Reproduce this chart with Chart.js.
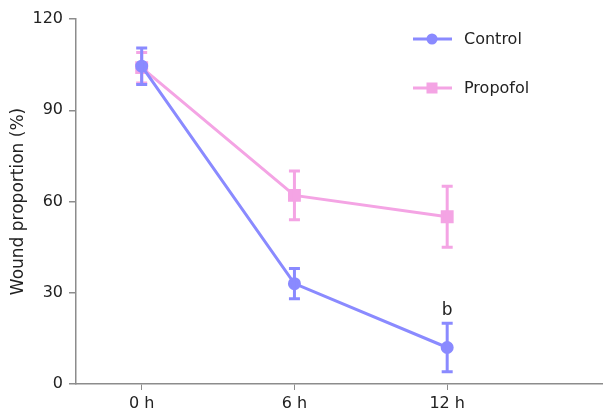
<!DOCTYPE html>
<html>
<head>
<meta charset="utf-8">
<script src="https://cdn.jsdelivr.net/npm/chart.js@4"></script>
<style>
  html, body { margin: 0; padding: 0; background: #fff; overflow: hidden; }
  #wrap { width: 603px; height: 419px; position: relative; overflow: hidden; }
  #c { display: block; }
</style>
</head>
<body>
<div id="wrap"><canvas id="c" width="613" height="419"></canvas></div>
<script>
// Time points and group means / errors (wound proportion, %)
const timeLabels = ['0 h', '6 h', '12 h'];
const controlMean = [104.5, 33, 12];
const controlErr = [6, 5, 8];
const propofolMean = [104, 62, 55];
const propofolErr = [5, 8, 10];
const yTicks = [0, 30, 60, 90, 120];
const controlMarks = ['', '', 'b'];

const BLUE = '#8a8aff';
const PINK = '#f4a4e4';
const AXIS = '#8c8c8c';
const FONT = '"DejaVu Sans", Verdana, sans-serif';

const toPoints = arr => arr.map((v, i) => ({ x: i, y: v }));

// Vertical error bars with caps, plus significance marks above the bars
const errorBars = {
  id: 'errorBars',
  afterDatasetDraw(chart, args) {
    const ds = chart.data.datasets[args.index];
    const xs = chart.scales.x, ys = chart.scales.y;
    const ctx = chart.ctx;
    ctx.save();
    ctx.strokeStyle = ds.borderColor;
    ctx.lineWidth = 3;
    ds.data.forEach((p, i) => {
      const e = ds.errors[i];
      const px = xs.getPixelForValue(p.x);
      const top = ys.getPixelForValue(p.y + e);
      const bot = ys.getPixelForValue(p.y - e);
      ctx.beginPath();
      ctx.moveTo(px, top); ctx.lineTo(px, bot);
      ctx.moveTo(px - 5.5, top); ctx.lineTo(px + 5.5, top);
      ctx.moveTo(px - 5.5, bot); ctx.lineTo(px + 5.5, bot);
      ctx.stroke();
      const mark = ds.marks && ds.marks[i];
      if (mark) {
        ctx.fillStyle = '#222';
        ctx.font = '17px ' + FONT;
        ctx.textAlign = 'center';
        ctx.textBaseline = 'bottom';
        ctx.fillText(mark, px, top - 4);
      }
    });
    ctx.restore();
  }
};

// Legend drawn in the upper right of the plot
const sideLegend = {
  id: 'sideLegend',
  afterDraw(chart) {
    const ctx = chart.ctx;
    const rows = [39, 88];
    ctx.save();
    chart.data.datasets.forEach((ds, i) => {
      const y = rows[i];
      ctx.strokeStyle = ds.borderColor;
      ctx.lineWidth = 3;
      ctx.beginPath();
      ctx.moveTo(413, y); ctx.lineTo(452, y);
      ctx.stroke();
      ctx.fillStyle = ds.borderColor;
      if (ds.pointStyle === 'rect') {
        ctx.fillRect(432 - 5.5, y - 5.5, 11, 11);
      } else {
        ctx.beginPath();
        ctx.arc(432, y, 5.5, 0, Math.PI * 2);
        ctx.fill();
      }
      ctx.fillStyle = '#222';
      ctx.font = '16px ' + FONT;
      ctx.textAlign = 'left';
      ctx.textBaseline = 'middle';
      ctx.fillText(ds.label, 464, y + 1);
    });
    ctx.restore();
  }
};

new Chart(document.getElementById('c'), {
  type: 'line',
  data: {
    datasets: [
      {
        label: 'Control',
        data: toPoints(controlMean),
        errors: controlErr,
        marks: controlMarks,
        borderColor: BLUE,
        backgroundColor: BLUE,
        borderWidth: 3,
        pointStyle: 'circle',
        pointRadius: 5,
        pointHoverRadius: 5
      },
      {
        label: 'Propofol',
        data: toPoints(propofolMean),
        errors: propofolErr,
        borderColor: PINK,
        backgroundColor: PINK,
        borderWidth: 3,
        pointStyle: 'rect',
        pointRadius: 7,
        pointHoverRadius: 7
      }
    ]
  },
  options: {
    responsive: false,
    animation: false,
    events: [],
    layout: { padding: { top: 19, right: 0, left: 0, bottom: 0 } },
    plugins: { legend: { display: false }, tooltip: { enabled: false } },
    scales: {
      x: {
        type: 'linear',
        min: -0.43,
        max: 3.02,
        afterBuildTicks(scale) {
          scale.ticks = timeLabels.map((_, i) => ({ value: i }));
        },
        afterFit(scale) { scale.height = 35; },
        ticks: {
          callback: v => timeLabels[v] ?? '',
          color: '#222',
          font: { family: FONT, size: 16 },
          padding: 4,
          maxRotation: 0
        },
        grid: { drawOnChartArea: false, drawTicks: true, tickLength: 6, color: AXIS, lineWidth: 1 },
        border: { display: true, color: AXIS, width: 1.5 }
      },
      y: {
        min: 0,
        max: 120,
        afterBuildTicks(scale) {
          scale.ticks = yTicks.map(v => ({ value: v }));
        },
        afterFit(scale) { scale.width = 76; },
        ticks: {
          color: '#222',
          font: { family: FONT, size: 16 },
          padding: 6
        },
        title: {
          display: true,
          text: 'Wound proportion (%)',
          color: '#222',
          font: { family: FONT, size: 17 },
          padding: { top: 8, bottom: 6 }
        },
        grid: { drawOnChartArea: false, drawTicks: true, tickLength: 7, color: AXIS, lineWidth: 1.5 },
        border: { display: true, color: AXIS, width: 1.5 }
      }
    }
  },
  plugins: [errorBars, sideLegend]
});
</script>
</body>
</html>
